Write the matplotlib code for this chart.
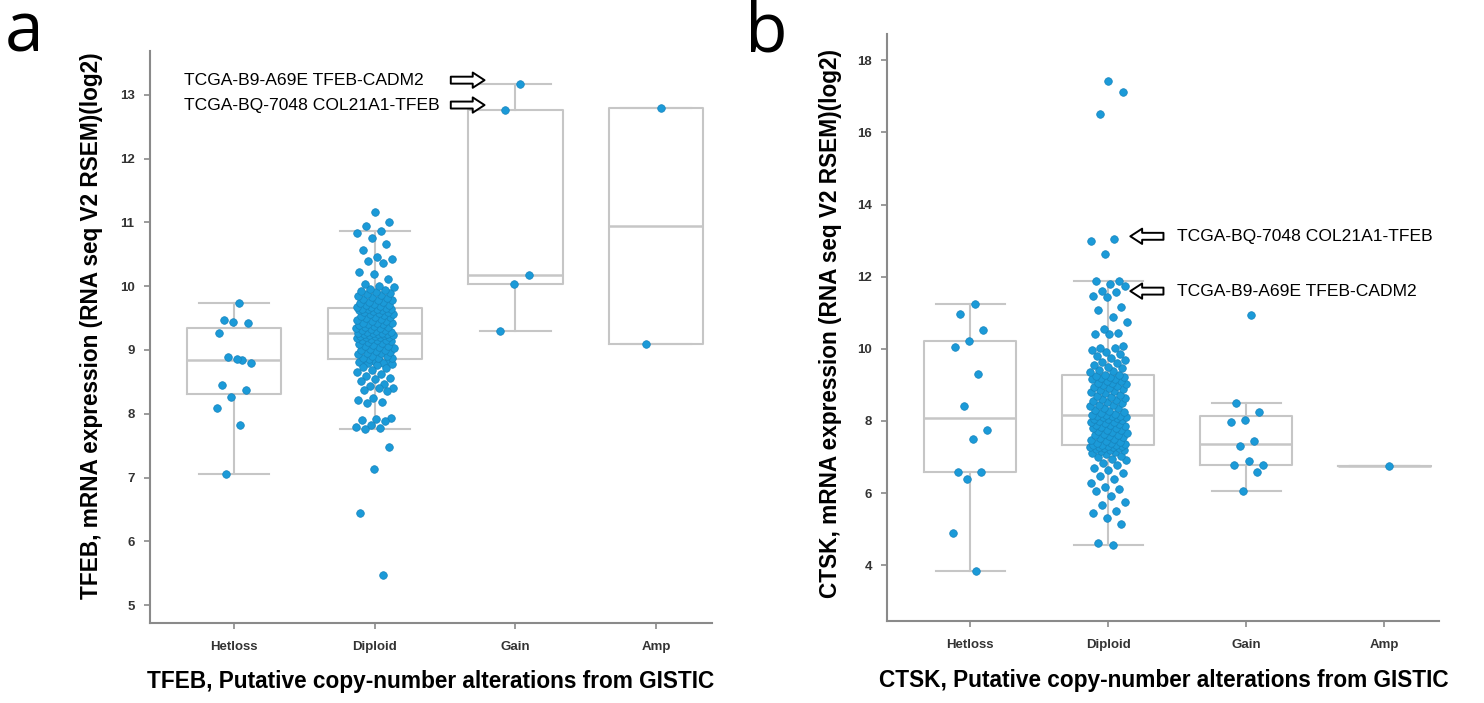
import numpy as np
import matplotlib
matplotlib.use("Agg")
import matplotlib.pyplot as plt
from matplotlib.patches import FancyArrowPatch

plt.rcParams["font.family"] = ["Liberation Sans", "DejaVu Sans"]

categories = ["Hetloss", "Diploid", "Gain", "Amp"]

# panel a: TFEB expression by TFEB copy-number state
tfeb_hetloss = [9.74, 9.47, 9.42, 9.44, 9.26, 8.84, 8.89, 8.79, 8.86, 8.45,
                8.37, 8.26, 8.09, 7.83, 7.06]
tfeb_diploid = [
    8.85, 8.84, 8.83, 8.82, 8.81, 8.80, 8.79, 8.78, 8.76, 8.74,
    8.71, 8.68, 8.66, 8.63, 8.60, 8.56, 8.54, 8.52, 8.46, 8.44,
    8.41, 8.40, 8.38, 8.35, 8.24, 8.22, 8.19, 8.17, 7.93, 7.92,
    7.90, 7.88, 7.82, 7.80, 7.78, 7.76, 7.48, 7.14, 6.45, 5.48,
    8.86,
    8.87, 8.88, 8.88, 8.90, 8.91, 8.93, 8.95, 8.95, 8.97, 8.99,
    9.00, 9.00, 9.02, 9.03, 9.05, 9.06, 9.06, 9.08, 9.10, 9.11,
    9.12, 9.14, 9.15, 9.15, 9.16, 9.18, 9.19, 9.20, 9.20, 9.21,
    9.22, 9.22, 9.23, 9.24, 9.24, 9.25, 9.25, 9.25, 9.26,
    9.26,
    9.27, 9.28, 9.28, 9.30, 9.31, 9.32, 9.33, 9.34, 9.35, 9.36,
    9.36, 9.38, 9.39, 9.40, 9.41, 9.42, 9.43, 9.43, 9.45, 9.46,
    9.47, 9.48, 9.50, 9.51, 9.52, 9.53, 9.55, 9.56, 9.57, 9.58,
    9.59, 9.60, 9.61, 9.62, 9.63, 9.64, 9.64, 9.65, 9.65,
    9.66,
    9.67, 9.68, 9.69, 9.70, 9.71, 9.72, 9.74, 9.75, 9.76, 9.78,
    9.79, 9.80, 9.82, 9.83, 9.85, 9.86, 9.88, 9.89, 9.91, 9.93,
    9.94, 9.96, 9.98, 10.01, 10.04, 10.11, 10.19, 10.22, 10.37, 10.40,
    10.42, 10.46, 10.57, 10.66, 10.75, 10.83, 10.86, 10.95, 11.01, 11.17,
]
tfeb_gain = [13.17, 12.77, 10.17, 10.03, 9.30]
tfeb_amp = [12.80, 9.10]

# panel b: CTSK expression by CTSK copy-number state
ctsk_hetloss = [11.24, 10.97, 10.53, 10.22, 10.06, 9.29, 8.40, 7.74, 7.51,
                6.59, 6.59, 6.38, 4.89, 3.84]
ctsk_diploid = [
    4.56, 4.62, 5.14, 5.30, 5.45, 5.51, 5.67, 5.74, 5.92, 6.05,
    6.10, 6.18, 6.28, 6.38, 6.48, 6.55, 6.63, 6.70, 6.78, 6.84,
    6.91, 6.95, 7.00, 7.04, 7.07, 7.10, 7.13, 7.16, 7.18, 7.20,
    7.22, 7.24, 7.25, 7.27, 7.28, 7.29, 7.30, 7.31, 7.32, 7.33,
    7.34,
    7.36, 7.38, 7.40, 7.42, 7.45, 7.47, 7.50, 7.52, 7.55, 7.57,
    7.60, 7.62, 7.65, 7.67, 7.70, 7.72, 7.74, 7.76, 7.79, 7.81,
    7.83, 7.85, 7.88, 7.90, 7.92, 7.94, 7.96, 7.98, 8.00, 8.02,
    8.04, 8.06, 8.08, 8.10, 8.11, 8.13, 8.14, 8.15, 8.16,
    8.17,
    8.19, 8.21, 8.26, 8.28, 8.30, 8.35, 8.37, 8.41, 8.43, 8.45,
    8.50, 8.52, 8.54, 8.57, 8.61, 8.63, 8.66, 8.70, 8.72, 8.77,
    8.79, 8.82, 8.86, 8.88, 8.90, 8.95, 8.97, 9.00, 9.01, 9.05,
    9.06, 9.10, 9.11, 9.15, 9.17, 9.18, 9.21, 9.23, 9.25,
    9.26,
    9.28, 9.35, 9.38, 9.42, 9.46, 9.50, 9.55, 9.60, 9.64, 9.70,
    9.75, 9.80, 9.86, 9.92, 9.98, 10.01, 10.02, 10.08, 10.40, 10.42,
    10.45, 10.56, 10.75, 10.88, 11.07, 11.15, 11.43, 11.46, 11.58, 11.59,
    11.74, 11.81, 11.87, 11.87, 12.64, 12.99, 13.04, 16.51, 17.11, 17.44,
]
ctsk_gain = [10.93, 8.49, 8.24, 8.03, 7.96, 7.43, 7.30, 6.79, 6.88, 6.79,
             6.59, 6.07]
ctsk_amp = [6.75]

POINT = "#1b9ad8"
EDGE = "#1784bd"
BOXC = "#c6c6c6"
AXC = "#8a8a8a"


def tukey_stats(vals):
    v = np.sort(np.asarray(vals, dtype=float))
    n = len(v)
    half = (n + 1) // 2
    q1 = np.median(v[:half])
    q3 = np.median(v[n - half:])
    iqr = q3 - q1
    return dict(
        med=np.median(v), q1=q1, q3=q3,
        whislo=v[v >= q1 - 1.5 * iqr].min(),
        whishi=v[v <= q3 + 1.5 * iqr].max(),
        fliers=[],
    )


def draw_panel(ax, groups, ylim, yticks, ylabel, xlabel, ylabel_y):
    pos = np.arange(len(groups))
    ax.bxp([tukey_stats(g) for g in groups], positions=pos, widths=0.67,
           capwidths=0.5, showfliers=False,
           boxprops=dict(color=BOXC, lw=1.5),
           whiskerprops=dict(color=BOXC, lw=1.5),
           capprops=dict(color=BOXC, lw=1.5),
           medianprops=dict(color=BOXC, lw=1.8))
    for p, g in zip(pos, groups):
        n = len(g)
        jit = (((np.arange(n) + 1) * 0.618034) % 1 - 0.5) * 0.27
        ax.scatter(p + jit, g, s=30, color=POINT, edgecolors=EDGE,
                   linewidths=0.5, zorder=3)
    ax.set_xlim(-0.6, 3.4)
    ax.set_ylim(*ylim)
    ax.set_yticks(yticks)
    ax.set_xticks(pos)
    ax.set_xticklabels(categories)
    for s in ("top", "right"):
        ax.spines[s].set_visible(False)
    for s in ("left", "bottom"):
        ax.spines[s].set_color(AXC)
        ax.spines[s].set_linewidth(1.5)
    ax.tick_params(axis="both", colors=AXC, labelcolor="#333333",
                   labelsize=9.5, length=4, width=1.2)
    ax.tick_params(axis="x", pad=9)
    ax.tick_params(axis="y", pad=7)
    for lab in ax.get_xticklabels() + ax.get_yticklabels():
        lab.set_fontweight("bold")
    ax.set_ylabel(ylabel, fontsize=16.3, fontweight="bold")
    ax.set_xlabel(xlabel, fontsize=16.3, fontweight="bold")
    ax.yaxis.set_label_coords(-0.083, ylabel_y)
    ax.xaxis.set_label_coords(0.5, -0.082)


def hollow_arrow(ax, x0, x1, y):
    ax.add_patch(FancyArrowPatch(
        (x0, y), (x1, y), arrowstyle="simple,head_length=8.5,head_width=11,tail_width=5",
        mutation_scale=1, shrinkA=0, shrinkB=0, fc="white", ec="black",
        lw=1.4, zorder=4, clip_on=False))


fig = plt.figure(figsize=(14.84, 7.03), dpi=100)
ax_a = fig.add_axes([0.101, 0.1138, 0.379, 0.813])
ax_b = fig.add_axes([0.598, 0.1166, 0.372, 0.835])

draw_panel(ax_a, [tfeb_hetloss, tfeb_diploid, tfeb_gain, tfeb_amp],
           (4.72, 13.68), range(5, 14),
           "TFEB, mRNA expression (RNA seq V2 RSEM)(log2)",
           "TFEB, Putative copy-number alterations from GISTIC", 0.52)
draw_panel(ax_b, [ctsk_hetloss, ctsk_diploid, ctsk_gain, ctsk_amp],
           (2.45, 18.73), range(4, 19, 2),
           "CTSK, mRNA expression (RNA seq V2 RSEM)(log2)",
           "CTSK, Putative copy-number alterations from GISTIC", 0.507)

# fusion-case annotations
ax_a.text(-0.36, 13.23, "TCGA-B9-A69E TFEB-CADM2", fontsize=12.6, va="center")
ax_a.text(-0.36, 12.84, "TCGA-BQ-7048 COL21A1-TFEB", fontsize=12.6, va="center")
hollow_arrow(ax_a, 1.54, 1.78, 13.23)
hollow_arrow(ax_a, 1.54, 1.78, 12.84)

ax_b.text(1.5, 13.12, "TCGA-BQ-7048 COL21A1-TFEB", fontsize=12.6, va="center")
ax_b.text(1.5, 11.6, "TCGA-B9-A69E TFEB-CADM2", fontsize=12.6, va="center")
hollow_arrow(ax_b, 1.40, 1.16, 13.12)
hollow_arrow(ax_b, 1.40, 1.16, 11.6)

fig.text(5 / 1484, 1 - 51 / 703, "a", fontsize=50, family="Open Sans",
         va="baseline", ha="left")
fig.text(745 / 1484, 1 - 51 / 703, "b", fontsize=50, family="Open Sans",
         va="baseline", ha="left")

fig.savefig("out.png", dpi=100)
